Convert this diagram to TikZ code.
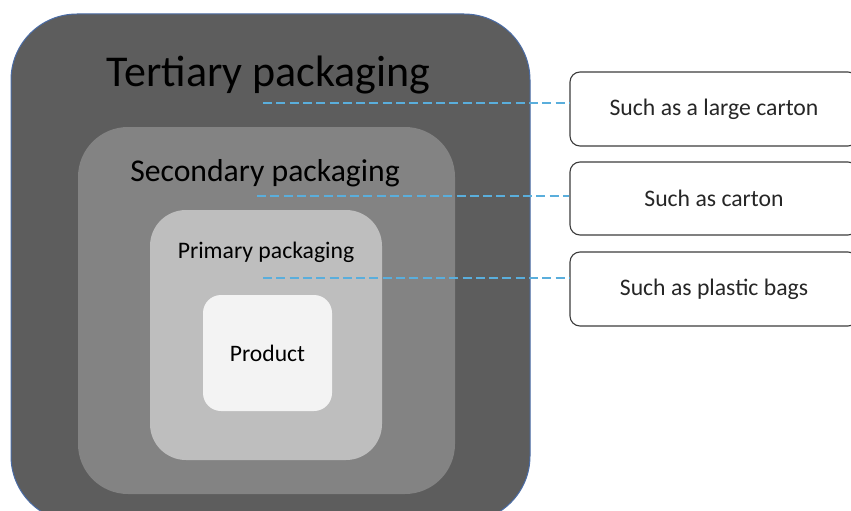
\documentclass[tikz,border=0pt]{standalone}
\usepackage{fontspec}
\setmainfont{Carlito}
\definecolor{tert}{HTML}{5D5D5D}
\definecolor{sec}{HTML}{838383}
\definecolor{prim}{HTML}{BEBEBE}
\definecolor{prod}{HTML}{F3F3F3}
\definecolor{edgeblue}{HTML}{4A6CA6}
\definecolor{dashblue}{HTML}{5AAEDC}
\definecolor{boxedge}{HTML}{3C3C3C}
\tikzset{
  layer/.style={draw=none, inner sep=0pt, outer sep=0pt},
  label/.style={inner sep=0pt, text=black},
  example/.style={draw=boxedge, line width=1.1pt, rounded corners=10pt, fill=white,
    minimum width=288pt, minimum height=74pt, inner sep=0pt,
    font=\fontsize{23.7}{28}\selectfont, text=black!85},
  link/.style={draw=dashblue, line width=2.4pt, dash pattern=on 9pt off 4.3pt}
}
\begin{document}
\begin{tikzpicture}[x=1pt,y=-1pt]
\clip (0,0) rectangle (851,511);
\fill[white] (0,0) rectangle (851,511);
\node[layer, fill=tert, draw=edgeblue, line width=1pt, rounded corners=66pt,
  minimum width=519pt, minimum height=508pt] (outer) at (270.5,268) {};
\node[layer, fill=sec, rounded corners=50pt,
  minimum width=377pt, minimum height=367pt] (second) at (266.5,310.5) {};
\node[layer, fill=prim, rounded corners=36pt,
  minimum width=232pt, minimum height=250pt] (primary) at (266,335) {};
\node[layer, fill=prod, rounded corners=18pt,
  minimum width=129pt, minimum height=116pt,
  font=\fontsize{23.6}{28}\selectfont] (product) at (267.5,353) {Product};
\node[label, font=\fontsize{44}{52}\selectfont] (tlab) at (268.5,75) {Tertiary packaging};
\node[label, font=\fontsize{31.7}{38}\selectfont] (slab) at (265,173) {Secondary packaging};
\node[label, font=\fontsize{23.7}{28}\selectfont] (plab) at (266,252) {Primary packaging};
\node[example] (ex1) at (714,109) {Such as a large carton};
\node[example, minimum height=73pt] (ex2) at (714,198.5) {Such as carton};
\node[example] (ex3) at (714,289) {Such as plastic bags};
\coordinate (c1) at (263,103);
\coordinate (c2) at (257,196);
\coordinate (c3) at (263,278);
\draw[link] (c1) -- (c1 -| ex1.west);
\draw[link] (c2) -- (c2 -| ex2.west);
\draw[link] (c3) -- (c3 -| ex3.west);
\end{tikzpicture}
\end{document}
